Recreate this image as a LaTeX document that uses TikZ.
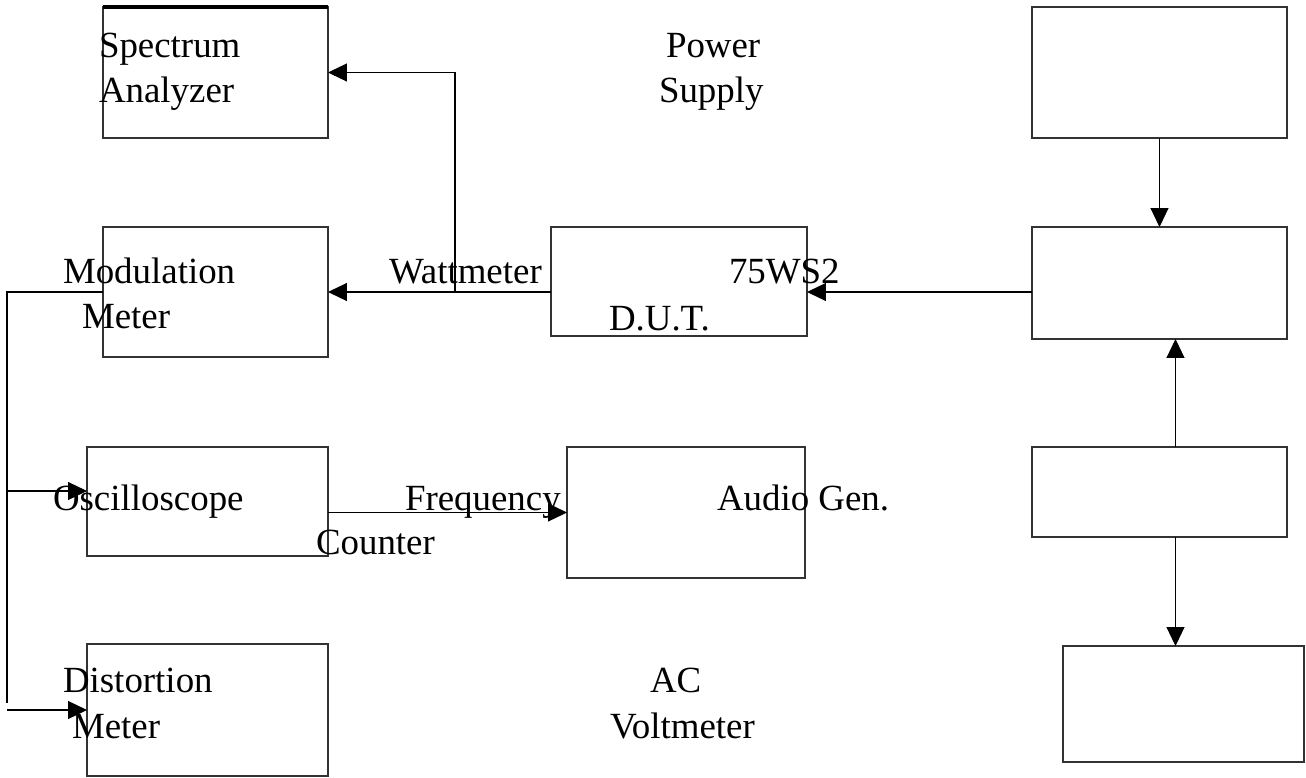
\documentclass[tikz,border=0pt]{standalone}
\usepackage{fontspec}
\setmainfont{Liberation Serif}
\usetikzlibrary{arrows.meta}
\begin{document}
\begin{tikzpicture}[x=0.02cm,y=-0.02cm,
  box/.style={draw=black!80, line width=0.8pt, inner sep=0pt, outer sep=0pt},
  conn/.style={line width=0.6pt},
  arr/.style={conn, -{Triangle[length=0.38cm,width=0.36cm]}},
  lbl/.style={anchor=base west, inner sep=0pt, outer sep=0pt, font=\fontsize{21pt}{25pt}\selectfont}]
\useasboundingbox (0,0) rectangle (1306,778);
% boxes
\node[box, minimum width=4.5cm,  minimum height=2.62cm] (spec) at (215.5,72.5) {};
\node[box, minimum width=4.5cm,  minimum height=2.6cm]  (mod)  at (215.5,292) {};
\node[box, minimum width=5.12cm, minimum height=2.18cm] (dut)  at (679,281.5) {};
\node[box, minimum width=5.1cm,  minimum height=2.62cm] (r1)   at (1159.5,72.5) {};
\node[box, minimum width=5.1cm,  minimum height=2.24cm] (r2)   at (1159.5,283) {};
\node[box, minimum width=4.82cm, minimum height=2.18cm] (osc)  at (207.5,501.5) {};
\node[box, minimum width=4.76cm, minimum height=2.62cm] (aud)  at (686,512.5) {};
\node[box, minimum width=5.1cm,  minimum height=1.8cm]  (r3)   at (1159.5,492) {};
\node[box, minimum width=4.82cm, minimum height=2.64cm] (dist) at (207.5,710) {};
\node[box, minimum width=4.82cm, minimum height=2.32cm] (r4)   at (1183.5,704) {};
\draw[line width=1.8pt] (spec.north west) -- (spec.north east);
% labels
\node[lbl] (t1) at (99,57) {Spectrum};
\node[lbl] (t2) at (99,102) {Analyzer};
\node[lbl] (t3) at (666,57) {Power};
\node[lbl] (t4) at (659,102) {Supply};
\node[lbl] (t5) at (63,283) {Modulation};
\node[lbl] (t6) at (82,328) {Meter};
\node[lbl] (t7) at (389,283) {Wattmeter};
\node[lbl] (t8) at (729,283) {75WS2};
\node[lbl] (t9) at (609,330) {D.U.T.};
\node[lbl] (t10) at (53,510) {Oscilloscope};
\node[lbl] (t11) at (405,510) {Frequency};
\node[lbl] (t12) at (316,554) {Counter};
\node[lbl] (t13) at (717,510) {Audio Gen.};
\node[lbl] (t14) at (63,692) {Distortion};
\node[lbl] (t15) at (72,738) {Meter};
\node[lbl] (t16) at (650,692) {AC};
\node[lbl] (t17) at (610,738) {Voltmeter};
% connectors
\coordinate (j) at (455,292);
\coordinate (bt) at (7,292);
\coordinate (bb) at (7,703);
\coordinate (ob) at (7,491);
\coordinate (db) at (7,710);
\draw[arr] (dut.west |- j) -- (mod.east |- j);
\draw[arr] (j) |- (spec.east);
\draw[arr] (r2.west |- j) -- (dut.east |- j);
\draw[conn] (mod.west |- bt) -- (bt) -- (bb);
\draw[arr] (ob) -- (osc.west |- ob);
\draw[arr] (db) -- (dist.west);
\draw[arr] (osc.east |- aud.west) -- (aud.west);
\draw[arr] (r1.south) -- (r2.north);
\draw[arr] ([xshift=0.32cm]r3.north) -- ([xshift=0.32cm]r2.south);
\draw[arr] ([xshift=0.32cm]r3.south) -- ([xshift=0.32cm]r3.south |- r4.north);
\end{tikzpicture}
\end{document}
